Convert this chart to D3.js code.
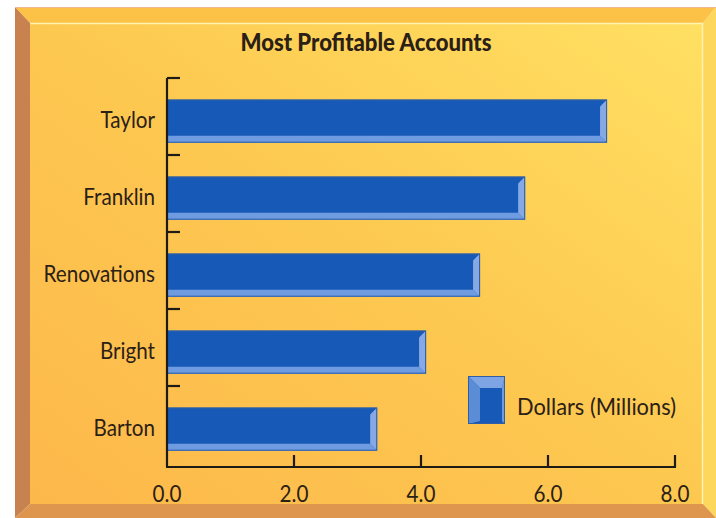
<!DOCTYPE html>
<html><head><meta charset="utf-8">
<script src="https://cdn.jsdelivr.net/npm/d3@7"></script>
<style>html,body{margin:0;padding:0;background:#fff;}svg{display:block;}</style>
</head><body>
<script>
const categories = ["Taylor", "Franklin", "Renovations", "Bright", "Barton"];
const values = [6.93, 5.64, 4.93, 4.08, 3.31];
const xTicks = [0, 2, 4, 6, 8];
const title = "Most Profitable Accounts";
const legendLabel = "Dollars (Millions)";

const W = 716, H = 518;
const svg = d3.select("body").append("svg").attr("width", W).attr("height", H);
const defs = svg.append("defs");
const g1 = defs.append("linearGradient").attr("id", "bg").attr("x1", "0").attr("y1", "1").attr("x2", "1").attr("y2", "0");
g1.append("stop").attr("offset", "0").attr("stop-color", "#FDB84B");
g1.append("stop").attr("offset", "0.5").attr("stop-color", "#FDC850");
g1.append("stop").attr("offset", "1").attr("stop-color", "#FFE062");

// frame
const L = 15, T = 7, R = 716, B = 518, iL = 30, iT = 23, iR = 703, iB = 504;
svg.append("polygon").attr("points", `${L},${T} ${R},${T} ${iR},${iT} ${iL},${iT}`).attr("fill", "#FCC247");
svg.append("polygon").attr("points", `${L},${T} ${iL},${iT} ${iL},${iB} ${L},${B}`).attr("fill", "#C8824F");
svg.append("polygon").attr("points", `${R},${T} ${R},${B} ${iR},${iB} ${iR},${iT}`).attr("fill", "#FDD65C");
svg.append("polygon").attr("points", `${L},${B} ${iL},${iB} ${iR},${iB} ${R},${B}`).attr("fill", "#DE954E");
svg.append("line").attr("x1", L).attr("x2", R).attr("y1", T + 0.5).attr("y2", T + 0.5).attr("stroke", "#F0B890").attr("stroke-width", 1);
svg.append("rect").attr("x", iL).attr("y", iT).attr("width", iR - iL).attr("height", iB - iT).attr("fill", "url(#bg)");
svg.append("polyline").attr("points", `${iL},${iT + 0.5} ${iR - 0.5},${iT + 0.5} ${iR - 0.5},${iB}`)
  .attr("fill", "none").attr("stroke", "#FFF3B0").attr("stroke-width", 1.5);

// scales
const x = d3.scaleLinear().domain([0, 8]).range([167, 675]);
const y = d3.scaleBand().domain(categories).range([78, 463]);
const bw = y.bandwidth();

const textColor = "#2B2016";
const font = "Lato, 'Open Sans', sans-serif";

function condense(sel, f) {
  sel.each(function () {
    const len = this.getComputedTextLength();
    d3.select(this).attr("textLength", len * f).attr("lengthAdjust", "spacingAndGlyphs");
  });
  return sel;
}

const tt = svg.append("text").attr("x", 366).attr("y", 51).attr("text-anchor", "middle")
  .attr("font-family", font).attr("font-weight", 900).attr("font-size", 24)
  .attr("fill", textColor).text(title);
tt.attr("textLength", 251).attr("lengthAdjust", "spacingAndGlyphs");

// bars
const bars = svg.append("g");
categories.forEach((c, i) => {
  const x0 = x(0), x1 = x(values[i]);
  const y0 = y(c) + bw * 0.28, h = bw * 0.56, y1 = y0 + h;
  const bv = 7;
  const gb = bars.append("g");
  gb.append("rect").attr("x", x0).attr("y", y0).attr("width", x1 - x0).attr("height", h).attr("fill", "#1759B6");
  gb.append("polygon").attr("points", `${x0},${y1 - bv} ${x1 - bv},${y1 - bv} ${x1},${y1} ${x0},${y1}`).attr("fill", "#6F9CE0");
  gb.append("polygon").attr("points", `${x1 - bv},${y0 + bv} ${x1},${y0} ${x1},${y1} ${x1 - bv},${y1 - bv}`).attr("fill", "#86A9E6");
  gb.append("rect").attr("x", x0 + 0.5).attr("y", y0 + 0.5).attr("width", x1 - x0 - 1).attr("height", h - 1)
    .attr("fill", "none").attr("stroke", "#2E5EA6").attr("stroke-width", 1);
  const lt = svg.append("text").attr("x", 155).attr("y", y0 + h / 2 - 2).attr("dy", "0.36em").attr("text-anchor", "end")
    .attr("font-family", font).attr("font-size", 24).attr("fill", textColor).text(c);
  condense(lt, 0.86);
});

// axes
const ax = svg.append("g").attr("stroke", "#1E1A14").attr("stroke-width", 2.2).attr("fill", "none");
ax.append("line").attr("x1", x(0)).attr("x2", x(0)).attr("y1", y.range()[0]).attr("y2", 467);
ax.append("line").attr("x1", x(0) - 1).attr("x2", x(8) + 1).attr("y1", 467).attr("y2", 467);
categories.forEach(c => {
  ax.append("line").attr("x1", x(0)).attr("x2", x(0) + 13).attr("y1", y(c)).attr("y2", y(c));
});
xTicks.slice(1).forEach(t => {
  ax.append("line").attr("x1", x(t)).attr("x2", x(t)).attr("y1", 467).attr("y2", 455);
});
xTicks.forEach(t => {
  const tl = svg.append("text").attr("x", x(t)).attr("y", 502).attr("text-anchor", "middle")
    .attr("font-family", font).attr("font-size", 24).attr("fill", textColor).text(d3.format(".1f")(t));
  condense(tl, 0.86);
});

// legend
const lx = 468, ly = 376, lw = 37, lh = 48, lb = 12;
const lg = svg.append("g");
lg.append("rect").attr("x", lx).attr("y", ly).attr("width", lw).attr("height", lh).attr("fill", "#1759B6");
lg.append("polygon").attr("points", `${lx},${ly} ${lx + lw},${ly} ${lx + lw - 3},${ly + lb} ${lx + lb},${ly + lb}`).attr("fill", "#7EA4E4");
lg.append("polygon").attr("points", `${lx},${ly} ${lx + lb},${ly + lb} ${lx + lb},${ly + lh - 3} ${lx},${ly + lh}`).attr("fill", "#5B8CD6");
lg.append("polygon").attr("points", `${lx + lw},${ly} ${lx + lw},${ly + lh} ${lx + lw - 3},${ly + lh - 3} ${lx + lw - 3},${ly + lb}`).attr("fill", "#6F9CE0");
lg.append("rect").attr("x", lx + 0.5).attr("y", ly + 0.5).attr("width", lw - 1).attr("height", lh - 1).attr("fill", "none").attr("stroke", "#2E5EA6");
const lgt = svg.append("text").attr("x", 517).attr("y", 406).attr("dy", "0.36em")
  .attr("font-family", font).attr("font-size", 24).attr("fill", textColor).text(legendLabel);
lgt.attr("textLength", 159).attr("lengthAdjust", "spacingAndGlyphs");
</script>
</body></html>
